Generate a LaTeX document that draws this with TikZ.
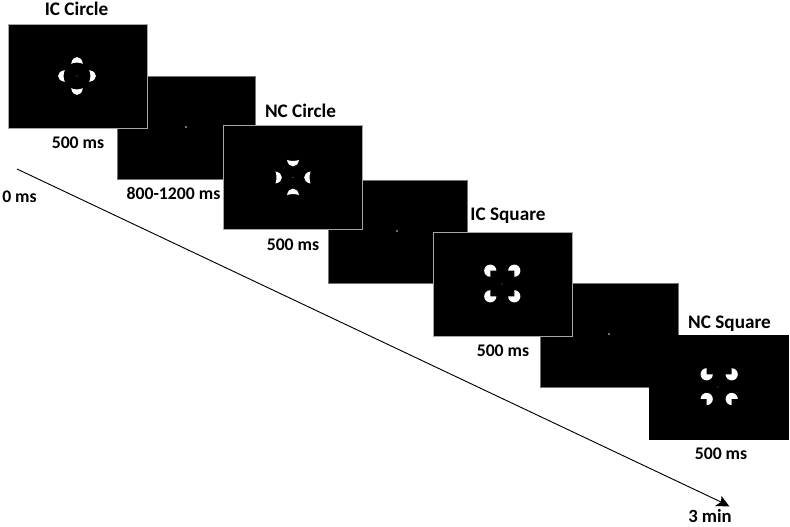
\documentclass[tikz,border=0pt]{standalone}
\usepackage{fontspec}
\setmainfont{Carlito}
\begin{document}
\begin{tikzpicture}[x=0.75pt,y=-0.75pt,
  screen/.style={fill=black,draw=black!35,line width=0.6pt,anchor=north west,inner sep=0pt},
  gapscreen/.style={screen,draw=black!55,line width=0.4pt},
  lastscreen/.style={screen,draw=black},
  lab/.style={font=\bfseries\fontsize{13.3}{15}\selectfont,text=black,inner sep=0pt,anchor=center},
  ttl/.style={lab,font=\bfseries\fontsize{14.4}{16}\selectfont},
  dotm/.style={fill=black!55},
  dotg/.style={fill=black!12}]
\useasboundingbox (0,0) rectangle (790,527);
\fill[white] (0,0) rectangle (790,527);
\newcommand{\scr}[6]{\pgfmathsetmacro{\scrw}{(#3-#1)*0.75}\pgfmathsetmacro{\scrh}{(#4-#2)*0.75}\node[#6,minimum width=\scrw pt,minimum height=\scrh pt] (#5) at (#1,#2) {};}
\newcommand{\dome}[3]{\fill[white,rotate around={#3:(#1,#2)}] (#1-5.8,#2-12.2) .. controls (#1-4.6,#2-21.2) and (#1+4.6,#2-21.2) .. (#1+5.8,#2-12.2) .. controls (#1+3,#2-13.8) and (#1-3,#2-13.8) .. (#1-5.8,#2-12.2) -- cycle;}
\newcommand{\cres}[3]{\fill[white,rotate around={#3:(#1,#2)}] (#1-6,#2-17.6) .. controls (#1-3,#2-16.2) and (#1+3,#2-16.2) .. (#1+6,#2-17.6) .. controls (#1+4.6,#2-9) and (#1-4.6,#2-9) .. (#1-6,#2-17.6) -- cycle;}
\newcommand{\pac}[3]{\fill[white] (#1,#2) -- +(#3:6.1) arc[start angle=#3,delta angle=270,radius=6.1] -- cycle;}
\scr{117}{76}{255}{179}{sb}{gapscreen}
\scr{328}{180}{467}{283}{sd}{gapscreen}
\scr{540}{283}{678}{387}{sf}{gapscreen}
\scr{8}{24}{147}{128}{sa}{screen}
\scr{223}{125}{362}{229}{sc}{screen}
\scr{433}{232}{572}{336}{se}{screen}
\scr{649}{335}{788}{439}{sg}{lastscreen}
% IC circle
\dome{77}{76}{0}\dome{77}{76}{90}\dome{77}{76}{180}\dome{77}{76}{270}
% NC circle
\cres{293}{177.5}{0}\cres{293}{177.5}{90}\cres{293}{177.5}{180}\cres{293}{177.5}{270}
% IC square
\pac{490.3}{270.7}{90}\pac{514.3}{270.7}{180}\pac{490.3}{296.3}{0}\pac{514.3}{296.3}{270}
% NC square
\pac{706.7}{374.3}{0}\pac{731.7}{374.3}{270}\pac{706.7}{399}{180}\pac{731.7}{399}{90}
% fixation dots
\foreach \x/\y in {77/76,293/177.5,502/284,718/387}{\fill[dotm] (\x,\y) circle (0.7);}
\foreach \x/\y in {186/127,397/231,609/334}{\fill[dotg] (\x,\y) circle (0.9);}
\node[ttl] (t1) at (76.5,9) {IC Circle};
\node[ttl] (t2) at (300.5,111) {NC Circle};
\node[ttl] (t3) at (508,216) {IC Square};
\node[ttl] (t4) at (729.5,324) {NC Square};
\node[lab] (l1) at (78,143) {500 ms};
\node[lab] (l2) at (173.5,193) {800-1200 ms};
\node[lab] (l3) at (293,245) {500 ms};
\node[lab] (l4) at (503,351) {500 ms};
\node[lab] (l5) at (721,454) {500 ms};
\node[lab] (t0) at (19.5,197) {0 ms};
\node[lab,font=\bfseries\fontsize{14}{15}\selectfont] (tn) at (710,516.5) {3 min};
\coordinate (as) at (17,169);
\coordinate (an) at (721,502);
\coordinate (ae) at (729.5,506.5);
\draw[black,line width=0.7pt] (as) -- (an);
\fill[black] (ae) -- (715,506) -- (721,502) -- (721.5,496) -- cycle;
\end{tikzpicture}
\end{document}
